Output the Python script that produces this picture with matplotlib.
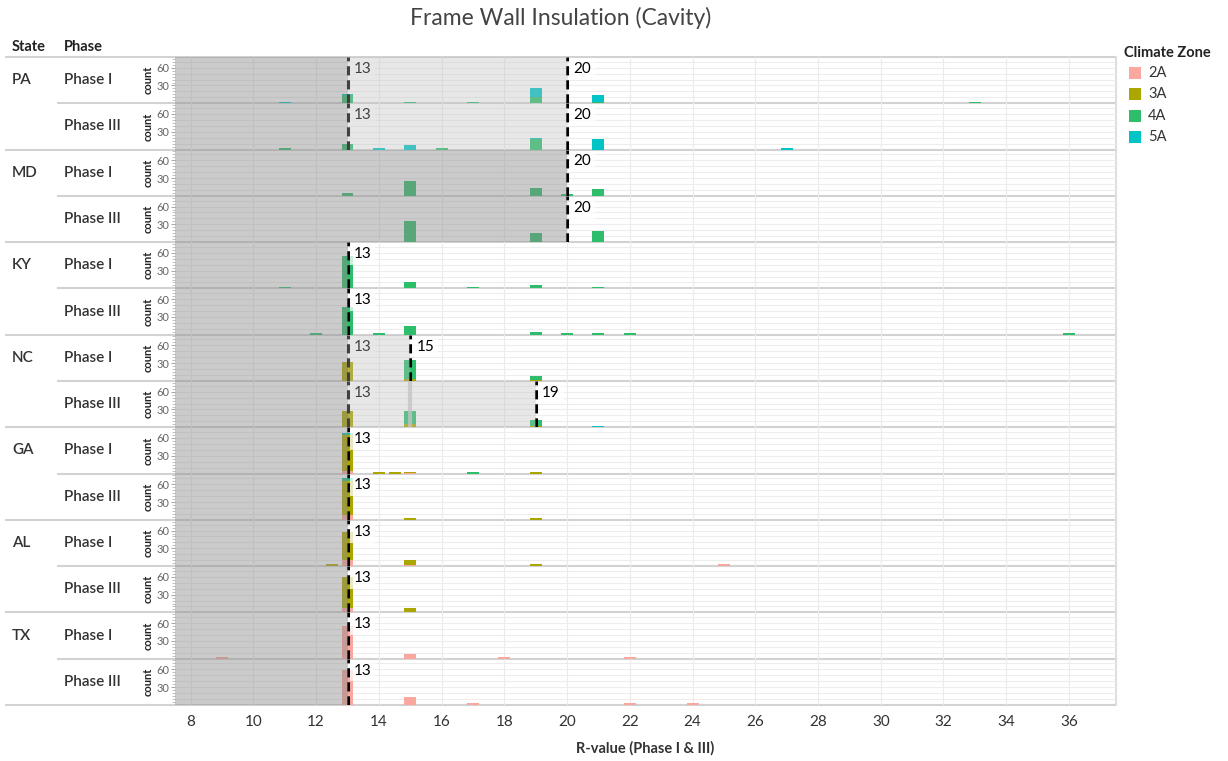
import matplotlib
matplotlib.use("Agg")
import matplotlib.pyplot as plt
import pandas as pd
from matplotlib.lines import Line2D
from matplotlib.patches import Rectangle

plt.rcParams["font.family"] = ["Lato", "DejaVu Sans"]

states = ["PA", "MD", "KY", "NC", "GA", "AL", "TX"]
phases = ["Phase I", "Phase III"]
zones = ["2A", "3A", "4A", "5A"]
zone_colors = ["#f9a79f", "#aca700", "#2ebd6b", "#00c4c6"]

# rows: R-value, count for 2A, 3A, 4A, 5A
PA_I = [[11, 0, 0, 0, 3], [13, 0, 0, 14, 2], [15, 0, 0, 2, 1], [17, 0, 0, 3, 0],
        [19, 0, 0, 11, 14], [21, 0, 0, 2, 12], [33, 0, 0, 3, 0]]
PA_III = [[11, 0, 0, 3, 0], [13, 0, 0, 9, 0], [14, 0, 0, 0, 3], [15, 0, 0, 0, 7],
          [16, 0, 0, 3, 0], [19, 0, 0, 17, 3], [21, 0, 0, 0, 18], [27, 0, 0, 0, 3]]
MD_I = [[13, 0, 0, 4, 0], [15, 0, 0, 25, 0], [19, 0, 0, 14, 0], [20, 0, 0, 3, 0],
        [21, 0, 0, 12, 0]]
MD_III = [[15, 0, 0, 36, 0], [19, 0, 0, 15, 0], [21, 0, 0, 18, 0]]
KY_I = [[11, 0, 0, 3, 0], [13, 0, 0, 54, 0], [15, 0, 0, 10, 0], [17, 0, 0, 3, 0],
        [19, 0, 0, 6, 0], [21, 0, 0, 3, 0]]
KY_III = [[12, 0, 0, 3, 0], [13, 0, 0, 47, 0], [14, 0, 0, 3, 0], [15, 0, 0, 15, 0],
          [19, 0, 0, 4, 0], [20, 0, 0, 3, 0], [21, 0, 0, 3, 0], [22, 0, 0, 3, 0],
          [36, 0, 0, 3, 0]]
NC_I = [[13, 0, 32, 0, 0], [15, 0, 4, 32, 0], [19, 0, 2, 6, 0]]
NC_III = [[13, 0, 28, 0, 0], [15, 0, 5, 23, 0], [19, 0, 3, 9, 0], [21, 0, 0, 0, 3]]
GA_I = [[13, 5, 60, 2, 2], [14, 0, 3, 0, 0], [14.5, 0, 3, 0, 0], [15, 1, 2, 0, 0],
        [17, 0, 0, 3, 0], [19, 0, 2, 1, 0]]
GA_III = [[13, 8, 58, 3, 2], [15, 0, 3, 0, 0], [19, 0, 3, 0, 0]]
AL_I = [[12.5, 0, 3, 0, 0], [13, 11, 46, 0, 0], [15, 2, 8, 0, 0], [19, 1, 2, 0, 0],
        [25, 3, 0, 0, 0]]
AL_III = [[13, 8, 51, 0, 0], [15, 1, 6, 0, 0]]
TX_I = [[9, 3, 0, 0, 0], [13, 55, 0, 0, 0], [15, 8, 0, 0, 0], [18, 3, 0, 0, 0],
        [22, 3, 0, 0, 0]]
TX_III = [[13, 59, 0, 0, 0], [15, 13, 0, 0, 0], [17, 3, 0, 0, 0], [22, 3, 0, 0, 0],
          [24, 3, 0, 0, 0]]

panels = [PA_I, PA_III, MD_I, MD_III, KY_I, KY_III, NC_I, NC_III,
          GA_I, GA_III, AL_I, AL_III, TX_I, TX_III]
# code lines per panel, end of dark shade, end of light shade
code_lines = [[13, 20], [13, 20], [20], [20], [13], [13], [13, 15], [13, 19],
              [13], [13], [13], [13], [13], [13]]
dark_end = [13, 13, 20, 20, 13, 13, 13, 13, 13, 13, 13, 13, 13, 13]
light_end = [20, 20, None, None, None, None, 15, 19, None, None, None, None, None, None]

W, H = 1228, 761
fig = plt.figure(figsize=(W / 100, H / 100), dpi=100)
fig.patch.set_facecolor("white")

def fx(px): return px / W
def fy(py): return 1 - py / H

x0, x1, top, bot = 175, 1116, 57, 705
ph = (bot - top) / len(panels)
XMIN, XMAX, YMAX = 7.5, 37.5, 78

# row separators (behind the panels)
for k in range(len(panels) + 1):
    y = top + k * ph
    xs = 6 if k % 2 == 0 else 58
    fig.add_artist(Line2D([fx(xs), fx(x1)], [fy(y), fy(y)], color="#d2d2d2", lw=1.5, zorder=-1))
fig.add_artist(Line2D([fx(x1), fx(x1)], [fy(top), fy(bot)], color="#dedede", lw=1.5, zorder=-1))

for i, rows in enumerate(panels):
    ax = fig.add_axes([fx(x0), fy(top + (i + 1) * ph), (x1 - x0) / W, ph / H])
    ax.set_facecolor("none")
    ax.set_xlim(XMIN, XMAX); ax.set_ylim(0, YMAX)
    for s in ax.spines.values():
        s.set_visible(False)
    for y in range(10, YMAX, 10):
        ax.axhline(y, color="#ededed", lw=0.8, zorder=0)
    for x in range(8, 38, 2):
        ax.axvline(x, color="#ebebeb", lw=0.8, zorder=0)
    df = pd.DataFrame(rows, columns=["r"] + zones)
    bottom = pd.Series(0.0, index=df.index)
    for z, c in zip(zones, zone_colors):
        ax.bar(df["r"], df[z], width=0.38, bottom=bottom, color=c, lw=0, zorder=2)
        bottom = bottom + df[z]
    for v in code_lines[i]:
        ax.plot([v, v], [0, YMAX], color="black", lw=2.2, ls=(0, (3, 1.6)), zorder=3)
        ax.text(v + 0.2, 58, str(v), fontsize=11, va="center", ha="left", color="black",
                zorder=4, bbox=dict(boxstyle="square,pad=0.25", fc="white", ec="none", alpha=0.75))
    ax.axvspan(XMIN, dark_end[i], color="#8c8c8c", alpha=0.45, lw=0, zorder=5)
    if light_end[i]:
        ax.axvspan(dark_end[i], light_end[i], color="#bdbdbd", alpha=0.35, lw=0, zorder=5)
    if i == 7:
        ax.axvline(15, color="#c4c4c4", lw=3, zorder=5, alpha=0.8)
    ax.set_yticks([30, 60])
    ax.set_yticks(range(5, YMAX, 5), minor=True)
    ax.tick_params(axis="y", which="major", labelsize=8, labelcolor="#666666", length=3,
                   width=0.6, color="#999999", pad=1)
    ax.tick_params(axis="y", which="minor", length=2, width=0.5, color="#aaaaaa")
    ax.set_ylabel("count", fontsize=8, fontweight="bold", labelpad=2, color="#222222")
    ax.set_xticks(range(8, 37, 2))
    if i == len(panels) - 1:
        ax.tick_params(axis="x", length=0, labelsize=11, labelcolor="#333333", pad=7)
    else:
        ax.tick_params(axis="x", length=0, labelbottom=False)

# header and row labels
fig.text(fx(12), fy(47), "State", fontsize=10.5, fontweight="bold", va="center", color="#222222")
fig.text(fx(64), fy(47), "Phase", fontsize=10.5, fontweight="bold", va="center", color="#222222")
for si, st in enumerate(states):
    yc = top + (2 * si + 0.5) * ph
    fig.text(fx(12), fy(yc), st, fontsize=11, fontweight="semibold", va="center", color="#333333")
    for pi, p in enumerate(phases):
        yp = top + (2 * si + pi + 0.5) * ph
        fig.text(fx(64), fy(yp), p, fontsize=11, fontweight="semibold", va="center", color="#333333")

fig.text(fx(561), fy(18), "Frame Wall Insulation (Cavity)", fontsize=16.5, ha="center",
         va="center", color="#444444")
fig.text(fx(645), fy(748), "R-value (Phase I & III)", fontsize=10.5, fontweight="bold",
         ha="center", va="center", color="#333333")

# legend
fig.text(fx(1124), fy(53), "Climate Zone", fontsize=10.5, fontweight="bold", va="center",
         color="#222222")
for j, (z, c) in enumerate(zip(zones, zone_colors)):
    yc = 73 + j * 21.3
    fig.add_artist(Rectangle((fx(1129), fy(yc + 6)), 12 / W, 12 / H, color=c, lw=0))
    fig.text(fx(1148), fy(yc), z, fontsize=10.5, va="center", color="#333333")

fig.savefig("out.png", dpi=100, facecolor="white")
